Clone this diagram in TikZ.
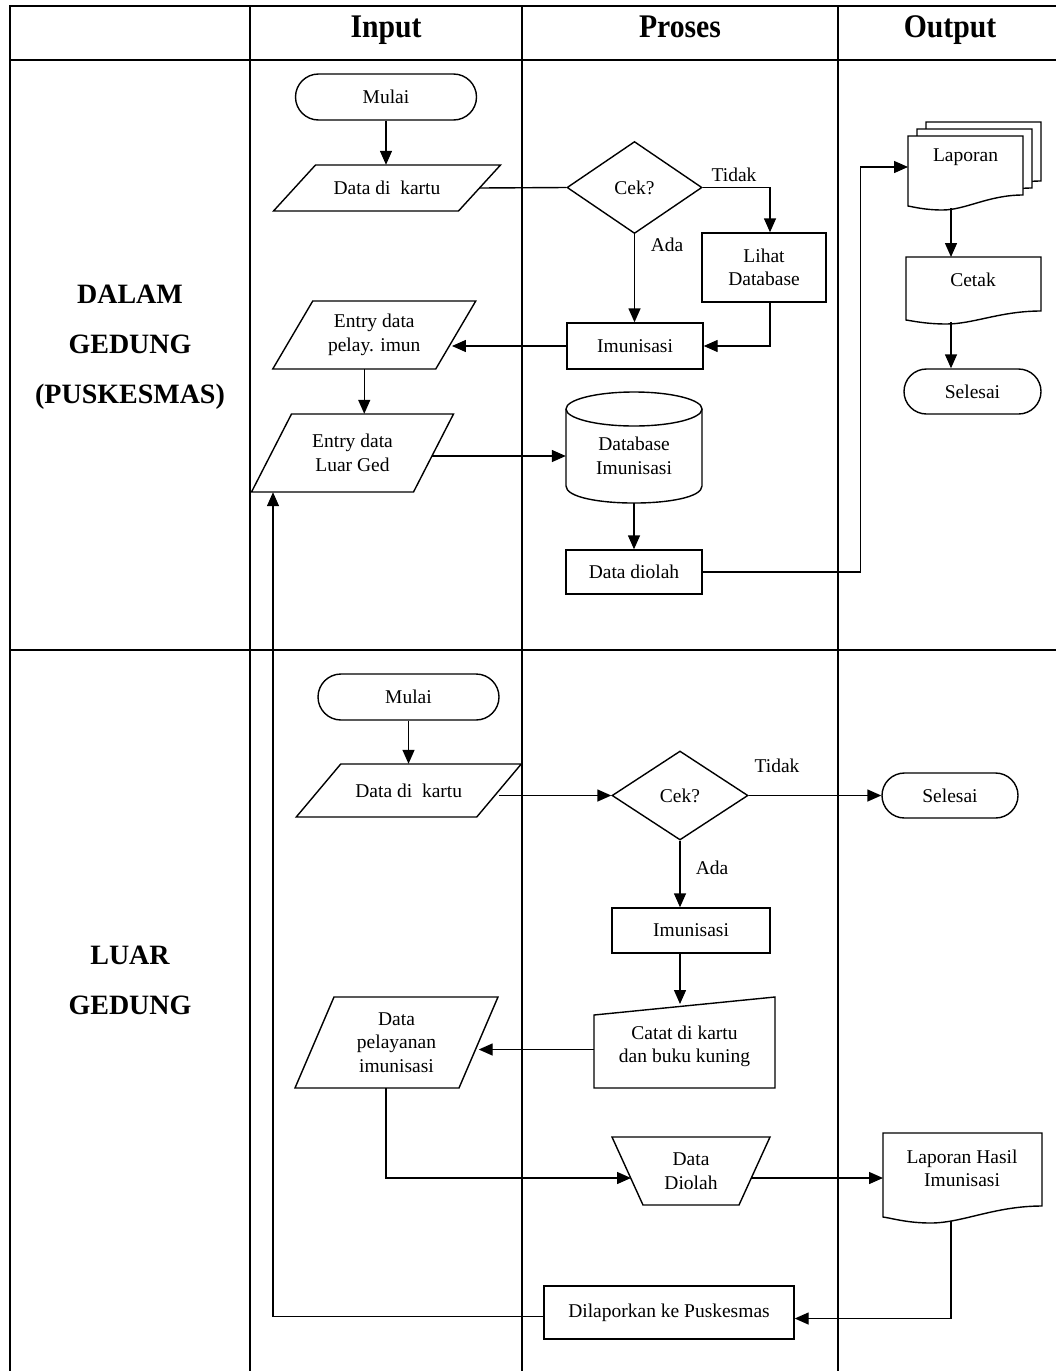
\documentclass[tikz,border=0pt]{standalone}
\usepackage{fontspec}
\setmainfont{Liberation Serif}
\usetikzlibrary{shapes.geometric,shapes.misc,arrows.meta,calc}
\newcommand\bodyfont{\fontsize{19.5}{23.5}\selectfont}
\newcommand\headfont{\fontsize{33}{36}\selectfont\bfseries}
\newcommand\sidefont{\fontsize{28}{50}\selectfont\bfseries}
% parallelogram: name, cx, cy, edge width, height, slant, text
\newcommand\parashape[7]{%
  \draw[shp] ({#2-#4/2+#6/2},{#3-#5/2}) -- ({#2+#4/2+#6/2},{#3-#5/2}) --
    ({#2+#4/2-#6/2},{#3+#5/2}) -- ({#2-#4/2-#6/2},{#3+#5/2}) -- cycle;
  \node[lbl, minimum width=#4, minimum height=#5] (#1) at (#2,#3) {#7};}
% document: x1, x2, ytop, yleft-bottom, ylow, yright-bottom
\newcommand\docshape[6]{%
  \draw[shp, fill=white] (#1,#3) -- (#2,#3) -- (#2,#6)
    .. controls ({#2-0.3*(#2-#1)},#6) and ({#1+0.5*(#2-#1)},#5) .. ({#1+0.3*(#2-#1)},#5)
    .. controls ({#1+0.15*(#2-#1)},#5) and ({#1+0.05*(#2-#1)},{#4+1}) .. (#1,#4) -- cycle;}
\begin{document}
\begin{tikzpicture}[x=1pt,y=-1pt,
  shp/.style={draw, line width=1.4pt},
  box/.style={shp, rectangle, inner sep=0pt, align=center, font=\bodyfont},
  term/.style={shp, rounded rectangle, inner sep=0pt, align=center, font=\bodyfont},
  dia/.style={shp, diamond, inner sep=0pt, align=center, font=\bodyfont},
  lbl/.style={inner sep=0pt, align=center, font=\bodyfont},
  ln/.style={line width=1.4pt},
  arr/.style={line width=1.4pt, -{Triangle[length=14pt,width=12pt]}},
  frame/.style={line width=2.4pt},
  head/.style={inner sep=0pt, anchor=base, font=\headfont},
  side/.style={inner sep=0pt, align=center, font=\sidefont}]
\useasboundingbox (0,0) rectangle (1056,1371);
% ---------- table frame ----------
\draw[frame] (10,1372) -- (10,6) -- (1058,6);
\draw[frame] (10,60) -- (1058,60);
\draw[frame] (10,650) -- (1058,650);
\draw[frame] (250,6) -- (250,1372);
\draw[frame] (522,6) -- (522,1372);
\draw[frame] (838,6) -- (838,1372);
\node[head] (hIn) at (386,37) {\scalebox{0.9}[1]{Input}};
\node[head] (hPr) at (680,37) {\scalebox{0.9}[1]{Proses}};
\node[head] (hOut) at (950,37) {\scalebox{0.9}[1]{Output}};
\node[side] (sDalam) at (130,347) {DALAM\\GEDUNG\\(PUSKESMAS)};
\node[side] (sLuar) at (130,980) {LUAR\\GEDUNG};
% ---------- DALAM GEDUNG ----------
\node[term, minimum width=181, minimum height=46] (mulaiA) at (386,97) {Mulai};
\parashape{kartuA}{387}{188}{185}{46}{42}{Data di~ kartu}
\node[dia, minimum width=135, minimum height=92] (cekA) at (634.5,187.5) {Cek?};
\node[lbl] (tidakA) at (734,175) {Tidak};
\node[lbl] (adaA) at (667,245) {Ada};
\node[box, minimum width=124, minimum height=69] (lihat) at (764,267.5) {Lihat\\Database};
\node[box, minimum width=136, minimum height=46] (imunA) at (635,346) {Imunisasi};
\parashape{pelayA}{374.25}{335}{163}{68}{40}{Entry data\\pelay. imun}
\parashape{luarA}{352.5}{453}{162}{78}{40}{Entry data\\Luar Ged}
% database cylinder
\draw[shp] (566,409) -- (566,486) .. controls (566,508.7) and (702,508.7) .. (702,486) -- (702,409);
\draw[shp] (634,409) ellipse [x radius=68pt, y radius=17pt];
\node[lbl, minimum width=136, minimum height=94] (db) at (634,456) {Database\\Imunisasi};
\node[box, minimum width=136, minimum height=44] (diolahA) at (634,572) {Data diolah};
% documents (output)
\docshape{926}{1041}{122}{192}{196}{181}
\docshape{917}{1032}{129}{199}{203}{188}
\docshape{908}{1023}{136}{206}{210}{195}
\node[lbl] (lap) at (965.5,157) {Laporan};
\coordinate (lapW) at (908,167);
\coordinate (lapS) at (951,208);
\docshape{906}{1041}{257}{320}{324}{311}
\node[lbl] (cetak) at (973,280) {Cetak};
\coordinate (cetN) at (951,257);
\coordinate (cetS) at (951,322);
\node[term, minimum width=137, minimum height=45] (selesaiA) at (972.5,391.5) {Selesai};
% connectors DALAM
\draw[arr] (mulaiA.south) -- (mulaiA.south |- kartuA.north);
\draw[ln] (kartuA.east) -- (cekA.west);
\draw[arr] (cekA.east) -| ([xshift=6pt]lihat.north);
\draw[arr] (cekA.south) -- (cekA.south |- imunA.north);
\draw[arr] ([xshift=6pt]lihat.south) |- (imunA.east);
\draw[arr] (imunA.west) -- ([xshift=-4pt]imunA.west -| pelayA.east);
\draw[arr] ([xshift=-10pt]pelayA.south) -- ([xshift=-10pt]pelayA.south |- luarA.north);
\draw[arr] ([xshift=-2pt]db.west -| luarA.east) -- (db.west);
\draw[arr] (db.south) -- (db.south |- diolahA.north);
\draw[arr] (diolahA.east) -- ++(158,0) |- (lapW);
\draw[arr] (lapS) -- (cetN);
\draw[arr] (cetS) -- (cetS |- selesaiA.north);
% ---------- LUAR GEDUNG ----------
\node[term, minimum width=181, minimum height=46] (mulaiB) at (408.5,697) {Mulai};
\parashape{kartuB}{408.75}{790.5}{180.5}{53}{44.5}{Data di~ kartu}
\node[dia, minimum width=136, minimum height=89] (cekB) at (680,795.5) {Cek?};
\node[lbl] (tidakB) at (777,766) {Tidak};
\node[lbl] (adaB) at (712,868) {Ada};
\node[term, minimum width=136, minimum height=45] (selesaiB) at (950,795.5) {Selesai};
\node[box, minimum width=158, minimum height=45] (imunB) at (691,930.5) {Imunisasi};
% manual input
\draw[shp] (594,1015) -- (775,997) -- (775,1088) -- (594,1088) -- cycle;
\node[lbl, minimum width=181, minimum height=70] (catat) at (684.5,1046.5) {Catat di kartu\\dan buku kuning};
\coordinate (catN) at (680,1004);
\parashape{pelayB}{396.5}{1042.5}{164}{91}{39}{Data\\pelayanan\\imunisasi}
% trapezium Data Diolah
\draw[shp] (612,1137) -- (770,1137) -- (739,1205) -- (643,1205) -- cycle;
\node[lbl, minimum width=127, minimum height=68] (ddB) at (691,1171) {Data\\Diolah};
\coordinate (ddW) at (631,1178);
\coordinate (ddE) at (751,1178);
\coordinate (pelS) at (386,1088);
% document Laporan Hasil
\docshape{883}{1042}{1133}{1217}{1223}{1206}
\node[lbl] (lapH) at (962,1168.5) {Laporan Hasil\\Imunisasi};
\coordinate (lapHW) at (883,1178);
\coordinate (lapHS) at (951,1221);
\node[box, minimum width=250, minimum height=53] (dilapor) at (669,1312.5) {Dilaporkan ke Puskesmas};
% connectors LUAR
\draw[arr] (mulaiB.south) -- (mulaiB.south |- kartuB.north);
\draw[arr] (cekB.west -| kartuB.east) -- (cekB.west);
\draw[arr] (cekB.east) -- (selesaiB.west);
\draw[arr] (cekB.south) -- (cekB.south |- imunB.north);
\draw[arr] (cekB.south |- imunB.south) -- (catN);
\draw[arr] ([yshift=-3pt]catat.west) -- ([yshift=-3pt]catat.west -| pelayB.east);
\draw[arr] (pelS) |- (ddW);
\draw[arr] (ddE) -- (lapHW);
\draw[arr] (lapHS) |- ([yshift=-6pt]dilapor.east);
\draw[arr] ([yshift=-4pt]dilapor.west) -| ([xshift=-79.5pt]luarA.south);
\end{tikzpicture}
\end{document}
